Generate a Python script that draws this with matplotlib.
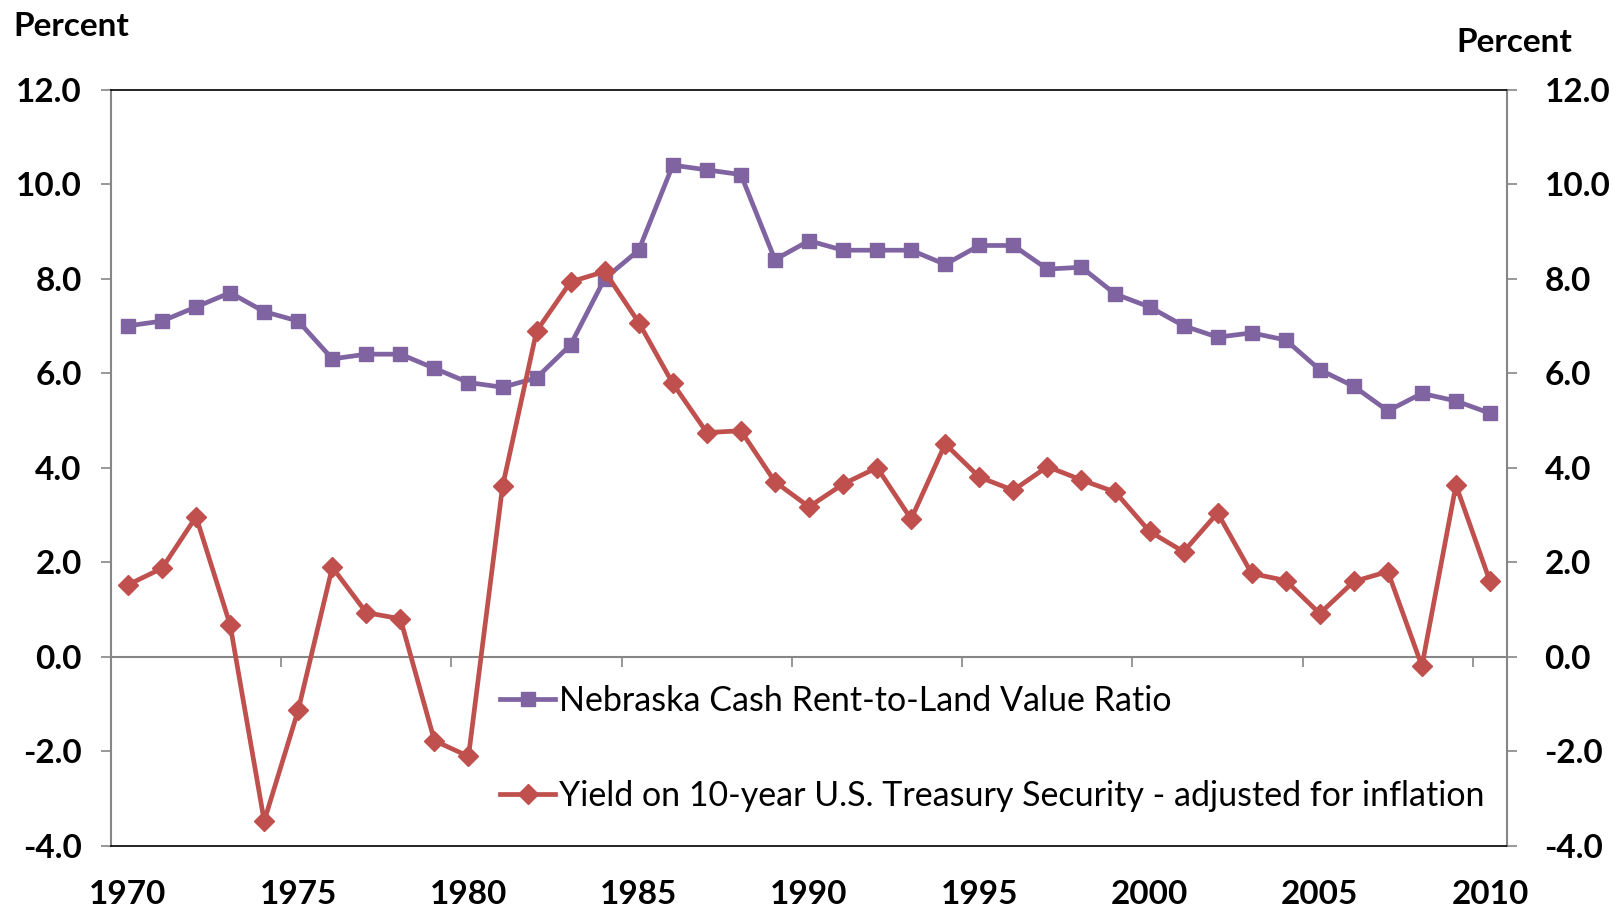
import numpy as np
import matplotlib
matplotlib.use("Agg")
from matplotlib import pyplot as plt
from matplotlib.ticker import FixedLocator, FormatStrFormatter

plt.rcParams['font.family'] = ['Lato', 'DejaVu Sans']

years = list(range(1970, 2011))

# Nebraska cash rent-to-land value ratio (percent)
rent_ratio = [7.0, 7.1, 7.4, 7.7, 7.3, 7.1, 6.3, 6.4, 6.4, 6.1,
              5.8, 5.7, 5.9, 6.6, 8.0, 8.6, 10.4, 10.3, 10.2, 8.4,
              8.8, 8.6, 8.6, 8.6, 8.3, 8.7, 8.7, 8.2, 8.24, 7.67,
              7.4, 7.0, 6.76, 6.85, 6.7, 6.07, 5.72, 5.2, 5.57, 5.41,
              5.15]

# 10-year treasury yield adjusted for inflation (percent)
real_yield = [1.52, 1.87, 2.96, 0.67, -3.48, -1.13, 1.89, 0.93, 0.8, -1.78,
              -2.11, 3.6, 6.89, 7.93, 8.15, 7.07, 5.78, 4.74, 4.78, 3.7,
              3.17, 3.65, 4.0, 2.91, 4.5, 3.8, 3.52, 4.02, 3.74, 3.48,
              2.65, 2.22, 3.04, 1.76, 1.61, 0.91, 1.59, 1.8, -0.2, 3.63,
              1.59]

label_rent = "Nebraska Cash Rent-to-Land Value Ratio"
label_yield = "Yield on 10-year U.S. Treasury Security - adjusted for inflation"

purple = "#8064A2"
red = "#C0504D"
grey = "#868686"
fs = 24

fig = plt.figure(figsize=(16.13, 9.09), dpi=100)
ax = fig.add_axes([0.0688, 0.0697, 0.8655, 0.8318])

ax.plot(years, rent_ratio, color=purple, lw=3.4, marker='s', ms=10.5,
        label=label_rent, zorder=3)
ax.plot(years, real_yield, color=red, lw=3.4, marker='D', ms=10,
        label=label_yield, zorder=3)

ax.set_xlim(1969.5, 2010.5)
ax.set_ylim(-4, 12)
yt = np.arange(-4, 12.1, 2)
ax.set_yticks(yt)
ax.yaxis.set_major_formatter(FormatStrFormatter('%.1f'))
ax.set_xticks(years[::5])
ax.tick_params(axis='x', length=0, pad=25, labelsize=fs)
ax.tick_params(axis='y', direction='out', length=7, width=1.2, color=grey,
               pad=14, labelsize=fs)
for t in ax.get_xticklabels() + ax.get_yticklabels():
    t.set_fontweight('bold')

for s in ['top', 'bottom']:
    ax.spines[s].set_color('black')
    ax.spines[s].set_linewidth(1.2)
for s in ['left', 'right']:
    ax.spines[s].set_color(grey)
    ax.spines[s].set_linewidth(1.5)

# category axis crossing at zero, with ticks between categories
zero_ax = ax.secondary_xaxis(0.25)
zero_ax.spines['bottom'].set_color(grey)
zero_ax.spines['bottom'].set_linewidth(1.5)
zero_ax.xaxis.set_major_locator(FixedLocator([y - 0.5 for y in years[5::5]]))
zero_ax.tick_params(axis='x', direction='out', length=7, width=1.2,
                    color=grey, labelbottom=False)

# right axis mirrors the left one
ax2 = ax.twinx()
ax2.set_ylim(-4, 12)
ax2.set_yticks(yt)
ax2.yaxis.set_major_formatter(FormatStrFormatter('%.1f'))
ax2.tick_params(axis='y', direction='out', length=7, width=1.2, color=grey,
                pad=20, labelsize=fs)
for t in ax2.get_yticklabels():
    t.set_fontweight('bold')
for s in ax2.spines.values():
    s.set_visible(False)

fig.text(13 / 1613, 1 - 26 / 909, "Percent", fontsize=fs, fontweight='bold',
         ha='left', va='center')
fig.text(1572 / 1613, 1 - 42 / 909, "Percent", fontsize=fs, fontweight='bold',
         ha='right', va='center')

leg = ax.legend(loc='center left', bbox_to_anchor=(0.279, 0.129), frameon=False,
                fontsize=24.5, borderpad=0, borderaxespad=0, handlelength=1.6,
                handletextpad=0.12, labelspacing=1.85)

fig.savefig("out.png", dpi=100)
